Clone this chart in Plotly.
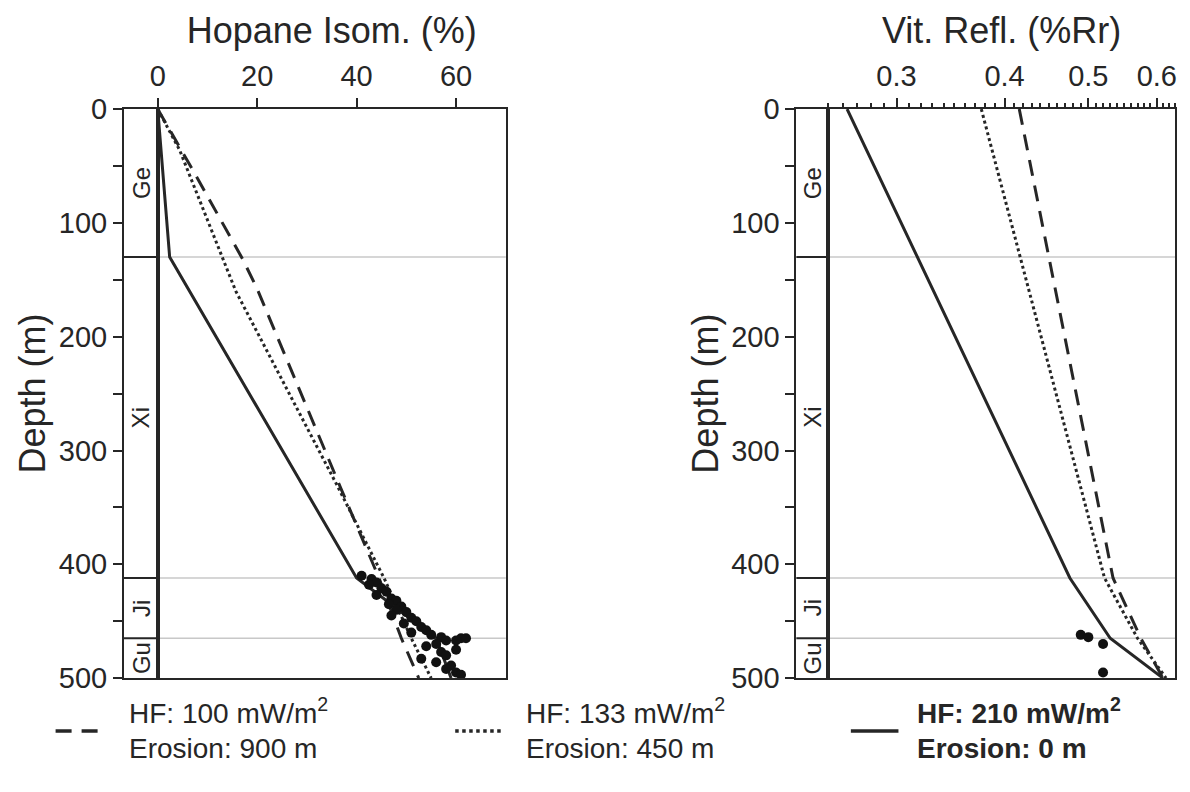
import plotly.graph_objects as go

# ---------------- data ----------------
units = ["Ge", "Xi", "Ji", "Gu"]
unit_top = [0, 130, 412, 465]
unit_base = [130, 412, 465, 500]

# Hopane isomerisation (%), model curves
hop_dash_depth = [0, 57, 132, 157, 335, 412, 465, 500]
hop_dash_val = [0.0, 7.5, 17.1, 19.9, 37.0, 44.5, 49.0, 52.5]
hop_dot_depth = [0, 36, 160, 330, 412, 465, 500]
hop_dot_val = [0.0, 4.4, 15.7, 36.0, 45.5, 51.0, 55.0]
hop_sol_depth = [0, 130, 412, 445, 465, 500]
hop_sol_val = [0.0, 2.4, 40.0, 50.0, 56.0, 59.0]
# Hopane measured
hop_obs_depth = [410, 413, 416, 418, 421, 424, 427, 430, 432, 435, 437, 440, 442, 445, 447,
                 450, 452, 455, 458, 460, 462, 464, 465, 467, 470, 472, 475, 477, 480, 483,
                 486, 489, 492, 495, 497, 465, 467]
hop_obs_val = [41, 43, 44, 42.5, 45, 46, 44, 47, 48, 46.5, 49, 48, 50, 47, 51,
               52, 49.5, 53, 54, 51, 55, 57, 61, 58, 56, 54, 60, 57, 58, 53,
               56, 59, 58, 60, 61, 62, 60]

# Vitrinite reflectance (%Rr), model curves
vr_dash_depth = [0, 412, 465, 500]
vr_dash_val = [0.416, 0.534, 0.575, 0.61]
vr_dot_depth = [0, 412, 465, 500]
vr_dot_val = [0.376, 0.522, 0.57, 0.615]
vr_sol_depth = [0, 412, 465, 500]
vr_sol_val = [0.263, 0.476, 0.53, 0.61]
# Vitrinite measured
vr_obs_depth = [462, 464, 470, 495]
vr_obs_val = [0.49, 0.50, 0.52, 0.52]

depth_ticks = [0, 50, 100, 150, 200, 250, 300, 350, 400, 450, 500]
depth_labels = ["0", "", "100", "", "200", "", "300", "", "400", "", "500"]
hop_ticks = [0, 20, 40, 60]
vr_ticks = [0.3, 0.4, 0.5, 0.6]
vr_minor = [round(0.25 + 0.01 * i, 2) for i in range(39)]

legend_lines = ["16px,10px", "dot", "solid"]
legend_l1 = ["HF: 100 mW/m<sup>2</sup>", "HF: 133 mW/m<sup>2</sup>", "<b>HF: 210 mW/m<sup>2</sup></b>"]
legend_l2 = ["Erosion: 900 m", "Erosion: 450 m", "<b>Erosion: 0 m</b>"]

# ---------------- layout helpers ----------------
W, H = 1190, 792
FONT = "Liberation Sans, Arial, sans-serif"
INK = "#262626"


def px(x):
    return x / W


def py(y):
    return 1 - y / H


ytop, ybot = 97, 690
col_l = (117, 151)
main_l = (151, 502)
col_r = (795, 827)
main_r = (827, 1177)

fig = go.Figure()

DASH = "16px,10px"
LW = 3

# left panel curves
fig.add_trace(go.Scatter(x=hop_dash_val, y=hop_dash_depth, mode="lines", xaxis="x2", yaxis="y2",
                         line=dict(color=INK, width=LW, dash=DASH), showlegend=False))
fig.add_trace(go.Scatter(x=hop_dot_val, y=hop_dot_depth, mode="lines", xaxis="x2", yaxis="y2",
                         line=dict(color=INK, width=LW, dash="dot"), showlegend=False))
fig.add_trace(go.Scatter(x=hop_sol_val, y=hop_sol_depth, mode="lines", xaxis="x2", yaxis="y2",
                         line=dict(color=INK, width=LW), showlegend=False))
fig.add_trace(go.Scatter(x=hop_obs_val, y=hop_obs_depth, mode="markers", xaxis="x2", yaxis="y2",
                         marker=dict(color="#111", size=10), showlegend=False))

# right panel curves
fig.add_trace(go.Scatter(x=vr_dash_val, y=vr_dash_depth, mode="lines", xaxis="x4", yaxis="y4",
                         line=dict(color=INK, width=LW, dash=DASH), showlegend=False))
fig.add_trace(go.Scatter(x=vr_dot_val, y=vr_dot_depth, mode="lines", xaxis="x4", yaxis="y4",
                         line=dict(color=INK, width=LW, dash="dot"), showlegend=False))
fig.add_trace(go.Scatter(x=vr_sol_val, y=vr_sol_depth, mode="lines", xaxis="x4", yaxis="y4",
                         line=dict(color=INK, width=LW), showlegend=False))
fig.add_trace(go.Scatter(x=vr_obs_val, y=vr_obs_depth, mode="markers", xaxis="x4", yaxis="y4",
                         marker=dict(color="#111", size=10), showlegend=False))

ydom = [py(ybot), py(ytop)]
tickfont = dict(family=FONT, size=29, color=INK)
titlefont = dict(family=FONT, size=36, color=INK)

col_x = dict(range=[0, 1], showticklabels=False, ticks="", showgrid=False, zeroline=False,
             showline=True, linecolor=INK, linewidth=2, mirror=True, fixedrange=True)
depth_y = dict(range=[500, 0], tickmode="array", tickvals=depth_ticks, ticktext=depth_labels,
               ticks="outside", ticklen=9, tickwidth=2, tickcolor=INK, tickfont=tickfont,
               showgrid=False, zeroline=False, showline=True, linecolor=INK, linewidth=2,
               mirror=True, domain=ydom,
               title=dict(text="Depth (m)", font=titlefont, standoff=2))
main_y = dict(range=[500, 0], showticklabels=False, ticks="", showgrid=False, zeroline=False,
              showline=True, linecolor=INK, linewidth=2, mirror=True, domain=ydom)

fig.update_layout(
    width=W, height=H, margin=dict(l=0, r=0, t=0, b=0),
    paper_bgcolor="white", plot_bgcolor="white", showlegend=False,
    xaxis=dict(col_x, domain=[px(col_l[0]), px(col_l[1])], anchor="y"),
    yaxis=dict(depth_y, anchor="x"),
    xaxis2=dict(domain=[px(main_l[0]), px(main_l[1])], anchor="y2", side="top", range=[0, 70],
                tickmode="array", tickvals=hop_ticks, ticks="outside", ticklen=9, tickwidth=2,
                tickcolor=INK, tickfont=tickfont, showgrid=False, zeroline=False, showline=True,
                linecolor=INK, linewidth=2, mirror=True,
                title=dict(text="Hopane Isom. (%)", font=titlefont, standoff=6)),
    yaxis2=dict(main_y, anchor="x2"),
    xaxis3=dict(col_x, domain=[px(col_r[0]), px(col_r[1])], anchor="y3"),
    yaxis3=dict(depth_y, anchor="x3"),
    xaxis4=dict(domain=[px(main_r[0]), px(main_r[1])], anchor="y4", side="top", type="log",
                range=[-0.60206, -0.20066], tickmode="array", tickvals=vr_ticks,
                ticktext=["0.3", "0.4", "0.5", "0.6"], ticks="outside", ticklen=9, tickwidth=2,
                tickcolor=INK, tickfont=tickfont, showgrid=False, zeroline=False, showline=True,
                linecolor=INK, linewidth=2, mirror=True,
                minor=dict(tickmode="array", tickvals=vr_minor, ticks="outside", ticklen=4,
                           tickwidth=1.5, tickcolor=INK, showgrid=False),
                title=dict(text="Vit. Refl. (%Rr)", font=titlefont, standoff=6)),
    yaxis4=dict(main_y, anchor="x4"),
)

shapes = []
annotations = []
# unit boundaries and labels
for xa, ya, xm in [("x", "y", "x2"), ("x3", "y3", "x4")]:
    for b in unit_top[1:]:
        shapes.append(dict(type="line", xref=f"{xm} domain", yref=ya, x0=0, x1=1, y0=b, y1=b,
                           line=dict(color="#c8c8c8", width=1.5), layer="below"))
        shapes.append(dict(type="line", xref=f"{xa} domain", yref=ya, x0=0, x1=1, y0=b, y1=b,
                           line=dict(color=INK, width=2)))
    for name, t, bb in zip(units, unit_top, unit_base):
        annotations.append(dict(text=name, xref=xa, yref=ya, x=0.5, y=(t + bb) / 2,
                                showarrow=False, textangle=-90,
                                font=dict(family=FONT, size=24, color=INK)))

# custom legend
leg_sample_x = [(48, 96), (451, 497), (850, 898)]
leg_text_x = [120, 520, 915]
for (x0, x1), tx, dsh, l1, l2 in zip(leg_sample_x, leg_text_x, legend_lines, legend_l1, legend_l2):
    shapes.append(dict(type="line", xref="paper", yref="paper", x0=px(x0), x1=px(x1),
                       y0=py(745), y1=py(745), line=dict(color=INK, width=3.5, dash=dsh)))
    annotations.append(dict(text=l1, xref="paper", yref="paper", x=px(tx), y=py(724),
                            xanchor="left", yanchor="middle", showarrow=False,
                            font=dict(family=FONT, size=28, color=INK)))
    annotations.append(dict(text=l2, xref="paper", yref="paper", x=px(tx), y=py(763),
                            xanchor="left", yanchor="middle", showarrow=False,
                            font=dict(family=FONT, size=28, color=INK)))

fig.update_layout(shapes=shapes, annotations=annotations)
fig.write_html("out.html", config={"displayModeBar": False},
               post_script="document.body.style.margin='0';document.body.style.overflow='hidden';")
